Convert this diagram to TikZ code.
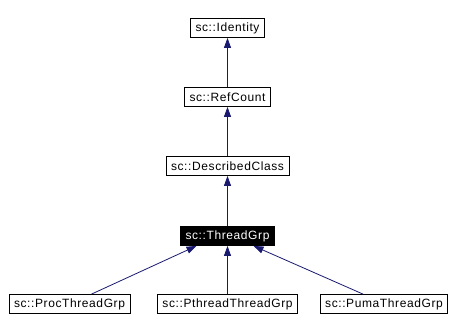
\documentclass[tikz,border=0pt]{standalone}
\usepackage{fontspec}
\setmainfont{Liberation Sans}[LetterSpace=5]
\usepackage{tikz}
\usetikzlibrary{positioning,arrows.meta,calc}
\definecolor{edgeblue}{RGB}{25,25,112}

\begin{document}
\begin{tikzpicture}[
  x=1pt, y=-1pt,
  font=\fontsize{12pt}{14pt}\selectfont,
  >={Triangle[length=10pt,width=7pt]},
  clsnode/.style={draw=black, fill=white, line width=0.8pt, minimum height=19pt, inner xsep=5pt, inner ysep=1pt},
  curnode/.style={clsnode, fill=black, text=white},
  inherit/.style={->, draw=edgeblue, line width=0.8pt}
]
  \useasboundingbox (0,0) rectangle (454,332);
  \node[clsnode] (ident) at (227.5,28) {sc::Identity};
  \node[clsnode] (refc) at (227.5,97) {sc::RefCount};
  \node[clsnode] (descls) at (227.5,166) {sc::DescribedClass};
  \node[curnode] (thrgrp) at (227.5,236) {sc::ThreadGrp};
  \node[clsnode] (procgrp) at (69.5,304) {sc::ProcThreadGrp};
  \node[clsnode] (pthrgrp) at (227.5,304) {sc::PthreadThreadGrp};
  \node[clsnode] (pumagrp) at (384,304) {sc::PumaThreadGrp};
  % inheritance edges
  \draw[inherit] (refc) -- (ident);
  \draw[inherit] (descls) -- (refc);
  \draw[inherit] (thrgrp) -- (descls);
  \draw[inherit] ([xshift=22pt]procgrp.north) -- ([xshift=-31pt]thrgrp.south);
  \draw[inherit] (pthrgrp) -- (thrgrp);
  \draw[inherit] ([xshift=-21pt]pumagrp.north) -- ([xshift=26pt]thrgrp.south);
\end{tikzpicture}
\end{document}
